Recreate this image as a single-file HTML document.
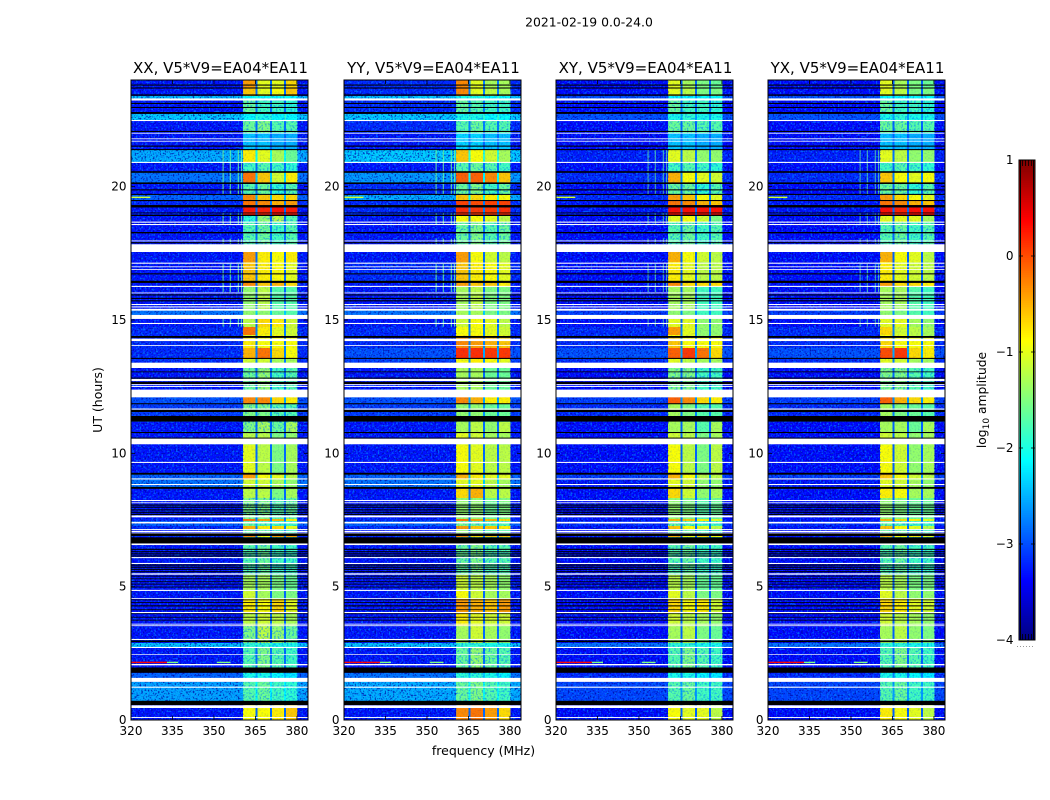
<!DOCTYPE html>
<html>
<head>
<meta charset="utf-8">
<style>
html,body{margin:0;padding:0;background:#fff;width:1050px;height:800px;overflow:hidden}
svg{display:block}
text{font-family:"DejaVu Sans","Liberation Sans",sans-serif;fill:#000}
</style>
</head>
<body>
<svg id="fig" xmlns="http://www.w3.org/2000/svg" width="1050" height="800" viewBox="0 0 1050 800">
<defs>
<filter id="noiseLight" x="0" y="0" width="100%" height="100%" color-interpolation-filters="sRGB">
<feTurbulence type="fractalNoise" baseFrequency="0.55" numOctaves="1" seed="4"/>
<feColorMatrix type="matrix" values="0 0 0 0 0  0 0 0 0 0.5  0 0 0 0 1  5 0 0 0 -2.5"/>
</filter>
<filter id="noiseDark" x="0" y="0" width="100%" height="100%" color-interpolation-filters="sRGB">
<feTurbulence type="fractalNoise" baseFrequency="0.6" numOctaves="1" seed="11"/>
<feColorMatrix type="matrix" values="0 0 0 0 0  0 0 0 0 0  0 0 0 0 0.6  0 5 0 0 -2.6"/>
</filter>
</defs>
<text x="589" y="26.5" font-size="12.4" text-anchor="middle">2021-02-19 0.0-24.0</text>
<text x="102" y="400" font-size="12.5" text-anchor="middle" transform="rotate(-90 102 400)">UT (hours)</text>
<text x="483.5" y="755" font-size="12.5" text-anchor="middle">frequency (MHz)</text>
<text x="986" y="400" font-size="12.3" text-anchor="middle" transform="rotate(-90 986 400)">log<tspan font-size="9" dy="3">10</tspan><tspan dy="-3"> amplitude</tspan></text>
<g id="panels"></g>
<g id="cbar"></g>
</svg>
<script>
// Shared time rows: edges in UT hours, bottom to top
const rowEdgesUT = [0,.56,1.43,1.76,2.7,2.89,3.53,4.01,4.54,4.84,5.44,6.56,6.86,6.94,7.16,7.28,7.46,7.54,8.33,8.7,9.04,9.23,10.31,10.76,11.18,11.85,12.11,13.2,13.54,13.95,14.33,14.44,14.74,15.04,15.38,16.24,16.46,17.18,17.55,18.68,18.94,19.31,19.5,19.69,20.14,20.55,20.89,21.38,22.01,22.46,22.73,23.25,23.4,23.7,24];
// Frequency channels (MHz): base, band1, gap, band2, gap, band3, gap, band4, edge
const channelEdges = [320,360.5,365.1,365.8,370.2,370.9,375.4,376,380.2,384];
// log10 amplitude per row: [base, band1, band2, band3, band4]
const levelsXX = [
[-3.3,-.9,-.9,-.8,-.6],[-2.55,-1.7,-1.6,-1.8,-1.9],[-2.9,-2,-2,-2.1,-2.2],[-3.3,-1.7,-1.5,-1.7,-1.8],[-2.4,-1.9,-1.9,-2,-2],[-3.3,-1.5,-1.2,-1.4,-1.6],
[-3.3,-1.2,-1.1,-1.2,-1.3],[-3.3,-.8,-.9,-.7,-1],[-3.3,-1.1,-1.3,-1.5,-1.5],[-3.3,-1.3,-1.3,-1.5,-1.6],[-3.3,-1.7,-1.6,-1.8,-1.8],[-3.4,-1.7,-1.7,-1.9,-1.9],
[-3.2,-.3,-.9,-.4,-.4],[-3.3,-1.6,-1.6,-1.8,-1.8],[-3.2,-.5,-.8,-.7,-1],[-2.9,-1.6,-1.7,-1.8,-1.8],[-3.2,-.2,-.4,-.5,-.8],[-3.3,-1.5,-1.5,-1.7,-1.6],
[-3.3,-1.2,-1.2,-1.5,-1.3],[-2.8,-1.1,-1.1,-1.3,-1.4],[-2.9,-.4,-.9,-1,-1.2],[-3.3,-1,-1.2,-1.5,-1.3],[-3.3,-1.2,-1.2,-1.5,-1.4],[-3.3,-1.5,-1.3,-1.6,-1.3],
[-3.1,-1.5,-1.5,-1.7,-1.7],[-3,-.3,-.3,-.7,-.8],[-3.3,-1.6,-1.4,-1.8,-1.7],[-3.2,-1.1,-1.1,-1.3,-1.3],[-3.2,-.5,-.2,-.7,-.9],[-3.2,-.8,-.9,-.9,-.9],
[-3.2,-1,-.9,-.9,-1.1],[-3.2,-.2,-.8,-1,-1.1],[-3.3,-1.2,-.7,-.8,-1.1],[-2.8,-1.4,-1.4,-1.6,-1.7],[-3.3,-1.4,-1.2,-1.7,-1.7],[-3.3,-.3,-.6,-.5,-.7],
[-3.3,-.6,-.8,-.9,-1],[-3.3,-.4,-.8,-.9,-.8],[-3.3,-1.7,-1.6,-1.8,-1.7],[-3.3,-1.9,-1.4,-1.2,-1.7],[-3.3,.25,.2,.3,.25],[-3.2,-.2,-.3,-.5,-.4],
[-2.9,-.3,-.6,-.7,-.7],[-3.3,-1.7,-1.6,-1.9,-1.7],[-2.8,-.2,-.6,-1.1,-.8],[-3.3,-1.8,-1.7,-1.8,-1.9],[-2.5,-.8,-1,-1.3,-1.6],[-3.3,-2.4,-2.4,-2.5,-2.5],
[-3.3,-1.6,-1.5,-1.7,-1.7],[-2.35,-2.1,-2,-2.1,-2.1],[-3.3,-1.6,-1.8,-1.8,-1.9],[-2.4,-2.1,-2.1,-2.1,-2.1],[-3.3,-.6,-1,-.9,-.6],[-3.3,-.4,-1,-1,-.7]
];
const levelsYY = [
[-3.3,-.3,-.2,-.4,-.7],[-2.5,-1.6,-1.5,-1.7,-1.8],[-2.8,-1.9,-1.9,-2,-2.1],[-3.3,-1.6,-1.4,-1.6,-1.7],[-2.4,-1.9,-1.9,-2,-2],[-3.3,-1.3,-1.1,-1.3,-1.4],
[-3.3,-.8,-1,-1.1,-1.1],[-3.3,-.4,-.5,-.6,-.4],[-3.3,-.9,-1.1,-1.3,-1.3],[-3.3,-1.1,-1.2,-1.3,-1.4],[-3.3,-1.6,-1.5,-1.7,-1.7],[-3.4,-1.6,-1.6,-1.8,-1.8],
[-3.2,-.3,-.7,-.6,-.6],[-3.3,-1.4,-1.5,-1.7,-1.7],[-3.2,-.4,-.6,-.6,-.8],[-2.9,-1.5,-1.6,-1.7,-1.7],[-3.2,-.2,-.4,-.5,-.7],[-3.3,-1.4,-1.4,-1.6,-1.5],
[-3.3,-.7,-.5,-1.2,-1.2],[-2.8,-1,-1,-1.2,-1.3],[-2.9,-.5,-.8,-1,-1],[-3.3,-.9,-1,-1.2,-1.2],[-3.3,-1,-1.1,-1.3,-1.3],[-3.3,-1.3,-1.2,-1.4,-1.2],
[-3.1,-1.4,-1.4,-1.6,-1.6],[-3,-.3,-.5,-.8,-.8],[-3.3,-1.3,-1.3,-1.6,-1.6],[-3.1,-.9,-.8,-.9,-1],[-3,.15,.15,.1,.1],[-3.2,-.3,-.4,-.5,-.6],
[-3.2,-.8,-.8,-.9,-1],[-3.2,-.9,-.9,-1,-1.1],[-3.3,-1.1,-.9,-1,-1.2],[-2.8,-1.3,-1.3,-1.5,-1.5],[-3.3,-1.3,-1.2,-1.5,-1.5],[-3.3,-.4,-.6,-.6,-.8],
[-3.2,-.6,-.8,-.9,-1],[-3.3,-.4,-.9,-1.1,-1.2],[-3.3,-1.6,-1.5,-1.7,-1.6],[-3.3,-.9,-.9,-1,-1.2],[-3.2,.15,.1,.1,.15],[-3.2,.05,0,.05,.05],
[-2.5,-.6,-.7,-.8,-.9],[-3.2,-1.6,-1.5,-1.8,-1.6],[-2.6,-.1,-.1,-.3,-.6],[-3.3,-1.7,-1.6,-1.7,-1.8],[-2.35,-.6,-.9,-1.1,-1.3],[-3.3,-2.3,-2.3,-2.4,-2.4],
[-3.2,-1.7,-1.6,-1.7,-1.7],[-2.35,-2,-2,-2.1,-2.1],[-3.2,-1.6,-1.7,-1.8,-1.8],[-2.35,-2,-2,-2.1,-2.1],[-3.2,-.3,-1,-1.2,-1.3],[-3.2,-.3,-1,-1.3,-1.3]
];
const levelsXY = [
[-3.35,-.9,-1,-1,-1.2],[-3.05,-1.7,-1.6,-1.8,-1.8],[-3.2,-2,-2,-2.1,-2.2],[-3.35,-1.7,-1.5,-1.7,-1.8],[-2.8,-1.9,-1.9,-2,-2],[-3.35,-1.3,-1.2,-1.5,-1.6],
[-3.35,-1.1,-1.2,-1.3,-1.4],[-3.35,-.7,-.9,-.8,-1.1],[-3.35,-1,-1.2,-1.5,-1.5],[-3.35,-1.2,-1.3,-1.6,-1.6],[-3.35,-1.7,-1.6,-1.8,-1.8],[-3.4,-1.7,-1.7,-1.9,-1.9],
[-3.3,-.5,-.9,-.7,-.9],[-3.35,-1.6,-1.6,-1.8,-1.8],[-3.3,-.6,-.9,-1,-1.2],[-3.2,-1.6,-1.7,-1.8,-1.8],[-3.3,-.5,-.6,-.8,-1],[-3.35,-1.4,-1.5,-1.7,-1.6],
[-3.35,-.7,-1.1,-1.4,-1.3],[-3.3,-1,-1.1,-1.4,-1.4],[-3.1,-.5,-.9,-1.2,-1.2],[-3.35,-.9,-1.2,-1.5,-1.2],[-3.35,-1.1,-1.2,-1.5,-1.3],[-3.35,-1.3,-1.3,-1.7,-1.3],
[-3.2,-1.3,-1.5,-1.7,-1.7],[-3.1,-.1,-.3,-.7,-.8],[-3.35,-1.5,-1.5,-1.8,-1.8],[-3.2,-1,-1.2,-1.3,-1.3],[-3,-.1,.1,-.2,-.7],[-3.2,-.6,-.9,-.9,-.9],
[-3.2,-.9,-1,-1.4,-1.3],[-3.2,-.4,-1,-1.4,-1.4],[-3.35,-1,-1,-1.4,-1.4],[-3.1,-1.4,-1.5,-1.8,-1.8],[-3.35,-1.3,-1.3,-1.8,-1.8],[-3.35,-.3,-.7,-.7,-.7],
[-3.35,-.8,-1,-1.2,-1.2],[-3.35,-.5,-.9,-1.1,-1.2],[-3.35,-1.7,-1.6,-1.8,-1.7],[-3.35,-1,-.9,-1.1,-1.5],[-3.3,.3,.3,.3,.3],[-3.3,-.2,-.3,-.5,-.6],
[-3.2,-.4,-.6,-.9,-1],[-3.35,-1.6,-1.6,-1.9,-1.7],[-3.2,-.5,-.9,-1,-1.1],[-3.35,-1.8,-1.7,-1.8,-1.9],[-3.25,-1,-1.2,-1.4,-1.4],[-3.35,-2.4,-2.4,-2.5,-2.5],
[-3.35,-1.6,-1.6,-1.7,-1.7],[-3,-2,-1.9,-2,-2],[-3.35,-1.6,-1.8,-1.8,-1.9],[-3,-2.1,-2.1,-2.1,-2.1],[-3.35,-1,-1.2,-1.5,-1.5],[-3.35,-1,-1.3,-1.5,-1.6]
];
const levelsYX = [
[-3.35,-.8,-.9,-1,-1.2],[-3.05,-1.7,-1.6,-1.8,-1.8],[-3.2,-2,-2,-2.1,-2.2],[-3.35,-1.7,-1.5,-1.7,-1.8],[-2.8,-1.9,-1.9,-2,-2],[-3.35,-1.3,-1.2,-1.4,-1.5],
[-3.35,-1.1,-1.2,-1.3,-1.4],[-3.35,-.7,-.8,-1,-1.1],[-3.35,-1,-1.2,-1.4,-1.4],[-3.35,-1.2,-1.3,-1.5,-1.5],[-3.35,-1.7,-1.6,-1.8,-1.8],[-3.4,-1.7,-1.7,-1.9,-1.9],
[-3.3,-.5,-.9,-.8,-1],[-3.35,-1.6,-1.6,-1.8,-1.8],[-3.3,-.6,-.9,-1,-1.2],[-3.2,-1.6,-1.7,-1.8,-1.8],[-3.3,-.5,-.7,-.8,-1],[-3.35,-1.4,-1.5,-1.6,-1.6],
[-3.35,-.8,-.9,-1.3,-1.3],[-3.3,-1,-1.1,-1.3,-1.4],[-3.1,-.6,-.9,-1.1,-1.2],[-3.35,-.9,-1.1,-1.4,-1.3],[-3.35,-1.1,-1.2,-1.4,-1.3],[-3.35,-1.3,-1.3,-1.6,-1.3],
[-3.2,-1.3,-1.5,-1.6,-1.7],[-3.1,-.1,-.5,-.7,-.8],[-3.35,-1.5,-1.5,-1.7,-1.8],[-3.2,-1,-1.1,-1.3,-1.3],[-3,0,.1,-.7,-.8],[-3.2,-.7,-.9,-.9,-.9],
[-3.2,-.9,-1,-1.2,-1.3],[-3.2,-.7,-1.1,-1.2,-1.3],[-3.35,-1,-1,-1.3,-1.4],[-3.1,-1.4,-1.5,-1.7,-1.8],[-3.35,-1.3,-1.3,-1.7,-1.8],[-3.35,-.4,-.7,-.7,-.8],
[-3.35,-.8,-1,-1.1,-1.2],[-3.35,-.5,-.9,-1,-1.2],[-3.35,-1.7,-1.6,-1.8,-1.7],[-3.35,-1,-1,-1,-1.3],[-3.3,.3,.2,.3,.3],[-3.3,-.2,-.3,-.5,-.6],
[-3.2,-.4,-.7,-.9,-1],[-3.35,-1.6,-1.6,-1.9,-1.7],[-3.2,-.6,-.9,-1,-.9],[-3.35,-1.8,-1.7,-1.8,-1.9],[-3.25,-1,-1.2,-1.4,-1.4],[-3.35,-2.4,-2.4,-2.5,-2.5],
[-3.35,-1.6,-1.6,-1.7,-1.7],[-3,-2,-1.9,-2,-2],[-3.35,-1.6,-1.8,-1.8,-1.9],[-3,-2.1,-2.1,-2.1,-2.1],[-3.35,-1,-1.2,-1.5,-1.5],[-3.35,-1,-1.3,-1.5,-1.6]
];
// Flagged time ranges [start, end] in UT hours
const whiteFlags = [[.075,.11],[.45,.55],[1.21,1.25],[1.43,1.58],[2.05,2.1],[2.45,2.475],[2.7,2.74],[3,3.04],[3.52,3.55],[3.58,3.61],[4.01,4.05],[4.54,4.57],[4.84,4.88],[5.45,5.5],[5.85,5.89],[6.07,6.11],[6.56,6.62],[7,7.03],[7.05,7.09],[7.12,7.16],[7.37,7.43],[7.6,7.67],[8.13,8.16],[8.21,8.25],[8.81,8.85],[9.02,9.06],[9.64,9.68],[10.34,10.55],[11.64,11.68],[12.1,12.39],[12.49,12.53],[12.57,12.6],[12.71,12.79],[13.2,13.4],[14.03,14.06],[14.21,14.3],[14.85,14.89],[15.04,15.19],[15.35,15.42],[15.47,15.51],[15.56,15.6],[16,16.03],[16.24,16.28],[16.88,16.91],[16.98,17.01],[17.11,17.15],[17.55,17.84],[17.95,17.98],[18.56,18.6],[18.65,18.69],[20.89,20.93],[21.69,21.72],[21.78,21.81],[21.99,22.02],[22.46,22.5],[23.23,23.31]];
const blackFlags = [[.56,.72],[1.77,1.97],[2.92,2.98],[3.73,3.76],[3.84,3.87],[3.97,4],[4.12,4.15],[4.26,4.3],[4.39,4.42],[4.49,4.52],[4.97,5],[5.08,5.11],[5.17,5.2],[5.28,5.31],[5.38,5.41],[5.54,5.58],[5.63,5.67],[5.71,5.75],[5.79,5.83],[6.13,6.17],[6.21,6.25],[6.29,6.33],[6.38,6.42],[6.62,6.85],[6.9,7],[7.69,7.73],[7.77,7.81],[7.86,7.9],[7.96,8],[8.04,8.08],[8.67,8.74],[9.2,9.27],[10.55,10.59],[10.76,10.8],[11.19,11.4],[11.55,11.63],[11.84,11.88],[12.6,12.68],[12.8,12.84],[13.04,13.07],[13.54,13.58],[14.33,14.4],[15.7,15.74],[15.79,15.83],[15.92,15.96],[16.39,16.47],[16.71,16.75],[17.88,17.92],[18.25,18.3],[18.9,18.95],[19,19.03],[19.22,19.31],[19.46,19.5],[19.69,19.73],[19.86,19.9],[20.1,20.16],[20.52,20.58],[21.37,21.41],[21.5,21.54],[22.05,22.09],[22.73,22.8],[22.95,22.99],[23.1,23.14],[23.41,23.46],[23.68,23.72],[23.79,23.83]];
// Vertical RFI lines (MHz) and the UT ranges where they are visible
const rfiFreqs = [353.3,355.9,358.8,360];
const rfiRanges = [[14.75,15.05],[16.05,17.1],[17.85,18.05],[18.6,19],[19.7,20.1],[20.15,21.4]];
// Narrow features: [freqStart, freqEnd, UT, level]
const spotFreqStart = [320,333,351,320];
const spotFreqEnd = [333,337,356,327];
const spotUT = [2.16,2.16,2.16,19.6];
const spotLevel = [.35,-1.5,-1.5,-1.1];
// Axis ticks
const freqTicks = [320,335,350,365,380];
const timeTicks = [0,5,10,15,20];
const cbarTicks = [-4,-3,-2,-1,0,1];
const panelNames = ['xx','yy','xy','yx'];
const panelTitles = ['XX, V5*V9=EA04*EA11','YY, V5*V9=EA04*EA11','XY, V5*V9=EA04*EA11','YX, V5*V9=EA04*EA11'];
const panelLevels = [levelsXX,levelsYY,levelsXY,levelsYX];

const NS='http://www.w3.org/2000/svg';
const PW=177,TOP=80,BOT=720,FMIN=320,FMAX=384,UTMAX=24;
const gapLift=.45,dimLevel=-1.45;
const panelLeft=i=>Math.round(131.2+212.4*i);
const yOf=u=>BOT-(u/UTMAX)*(BOT-TOP);
function jet(v){
  const t=Math.min(1,Math.max(0,(v+4)/5));
  const c=k=>Math.round(255*Math.min(1,Math.max(0,1.5-Math.abs(4*t-k))));
  return 'rgb('+c(3)+','+c(2)+','+c(1)+')';
}
function mk(tag,parent,attrs){
  const el=document.createElementNS(NS,tag);
  for(const k in attrs)el.setAttribute(k,attrs[k]);
  parent.appendChild(el);
  return el;
}
const root=document.getElementById('panels');
panelNames.forEach((nm,pi)=>{
  const L=panelLeft(pi);
  const xOf=f=>L+(f-FMIN)/(FMAX-FMIN)*PW;
  const g=mk('g',root,{});
  
  
  const hm=mk('g',g,{'shape-rendering':'crispEdges'});
  
  
  const lv=panelLevels[pi];
  lv.forEach((row,r)=>{
    const yT=yOf(rowEdgesUT[r+1]),yB=yOf(rowEdgesUT[r]);
    const vals=[row[0],row[1],row[0]+gapLift,row[2],row[0]+gapLift,row[3],row[0]+gapLift,row[4],row[0]];
    vals.forEach((v,c)=>{
      const cell=mk('rect',hm,{x:xOf(channelEdges[c]),y:yT,width:xOf(channelEdges[c+1])-xOf(channelEdges[c]),height:yB-yT,fill:jet(v)});
      
      
    });
  });
  // speckle texture overlays (visual grain only)
  [[FMIN,360.5,.75],[360.5,380.2,.1],[380.2,FMAX,.75]].forEach(s=>{
    ['noiseLight','noiseDark'].forEach(fid=>{
      const n=mk('rect',g,{x:xOf(s[0]),y:TOP,width:xOf(s[1])-xOf(s[0]),height:BOT-TOP,fill:'#000',filter:'url(#'+fid+')',opacity:s[2]});
      
      
    });
  });
  // stronger mottling inside the band on dim rows
  lv.forEach((row,r)=>{
    if(row[1]>dimLevel)return;
    const yT=yOf(rowEdgesUT[r+1]),yB=yOf(rowEdgesUT[r]);
    const n=mk('rect',g,{x:xOf(360.5),y:yT,width:xOf(380.2)-xOf(360.5),height:yB-yT,fill:'#000',filter:'url(#noiseLight)',opacity:.55});
    
    
  });
  rfiRanges.forEach(rg=>{
    rfiFreqs.forEach(f=>{
      const st=mk('rect',g,{x:xOf(f)-.5,y:yOf(rg[1]),width:1,height:yOf(rg[0])-yOf(rg[1]),fill:jet(-1.6),opacity:pi<2?.9:.7});
      
      
    });
  });
  spotUT.forEach((u,i)=>{
    const sp=mk('rect',g,{x:xOf(spotFreqStart[i]),y:yOf(u)-.7,width:xOf(spotFreqEnd[i])-xOf(spotFreqStart[i]),height:1.4,fill:jet(spotLevel[i])});
    
    
  });
  blackFlags.forEach(b=>{
    const yT=yOf(b[1]),h=yOf(b[0])-yT;
    const fl=mk('rect',g,{x:L,y:yT,width:PW,height:h,fill:'#000'});
    
    
  });
  whiteFlags.forEach(b=>{
    const yT=yOf(b[1]),h=yOf(b[0])-yT;
    const fl=mk('rect',g,{x:L,y:yT,width:PW,height:h,fill:'#fff'});
    
    
  });
  const frame=mk('rect',g,{x:L,y:TOP,width:PW,height:BOT-TOP,fill:'none',stroke:'#000','stroke-width':1});
  
  
  freqTicks.forEach(f=>{
    const x=xOf(f);
    const t1=mk('line',g,{x1:x,x2:x,y1:BOT,y2:BOT-4,stroke:'#000','stroke-width':.8});
    
    
    const t2=mk('line',g,{x1:x,x2:x,y1:TOP,y2:TOP+4,stroke:'#000','stroke-width':.8});
    
    
    const lb=mk('text',g,{x:x,y:735,'font-size':12,'text-anchor':'middle'});
    lb.textContent=String(f);
    
    
  });
  timeTicks.forEach(u=>{
    const y=yOf(u);
    const t1=mk('line',g,{x1:L,x2:L+4,y1:y,y2:y,stroke:'#000','stroke-width':.8});
    
    
    const t2=mk('line',g,{x1:L+PW,x2:L+PW-4,y1:y,y2:y,stroke:'#000','stroke-width':.8});
    
    
    const lb=mk('text',g,{x:L-4.5,y:y+4,'font-size':12,'text-anchor':'end'});
    lb.textContent=String(u);
    
    
  });
  const ti=mk('text',g,{x:L+PW/2+1,y:73,'font-size':15,'text-anchor':'middle'});
  ti.textContent=panelTitles[pi];
  
  
});
// colorbar
const cb=document.getElementById('cbar');
const CL=1019,CW=16,CT=160,CB=640,VMIN=-4,VMAX=1;
const cy=v=>CB-(v-VMIN)/(VMAX-VMIN)*(CB-CT);
for(let i=0;i<256;i++){
  const v0=VMIN+(VMAX-VMIN)*i/256,v1=VMIN+(VMAX-VMIN)*(i+1)/256;
  const s=mk('rect',cb,{x:CL,y:cy(v1),width:CW,height:cy(v0)-cy(v1)+.5,fill:jet((v0+v1)/2),'shape-rendering':'crispEdges'});
  
  
}
[CL+1.5,CL+CW-1.5].forEach(x=>{
  const e=mk('line',cb,{x1:x,x2:x,y1:CT,y2:CB,stroke:'#000','stroke-width':1});
  
  
});
const cf=mk('rect',cb,{x:CL,y:CT,width:CW,height:CB-CT,fill:'none',stroke:'#000','stroke-width':1});


cbarTicks.forEach(v=>{
  const y=cy(v);
  if(v>VMIN&&v<VMAX){
    [[CL,CL+4],[CL+CW-4,CL+CW]].forEach(p=>{
      const t=mk('line',cb,{x1:p[0],x2:p[1],y1:y,y2:y,stroke:'#000','stroke-width':.8});
      
      
    });
  }
  const lb=mk('text',cb,{x:1013.5,y:y+4,'font-size':12,'text-anchor':'end'});
  lb.textContent=(v<0?'\u2212'+(-v):String(v));
  
  
});
[3.5,6.5,9.5,12.5].forEach(dx=>{
  [[CT,CT+6],[CB-6,CB]].forEach(p=>{
    const t=mk('line',cb,{x1:CL+dx,x2:CL+dx,y1:p[0],y2:p[1],stroke:'#000','stroke-width':.8});
    
    
  });
});
[0,3,6,9,12,15].forEach(dx=>{
  const d=mk('rect',cb,{x:CL-2+dx,y:646,width:1,height:1,fill:'#999'});
  
  
});
</script>
</body>
</html>
